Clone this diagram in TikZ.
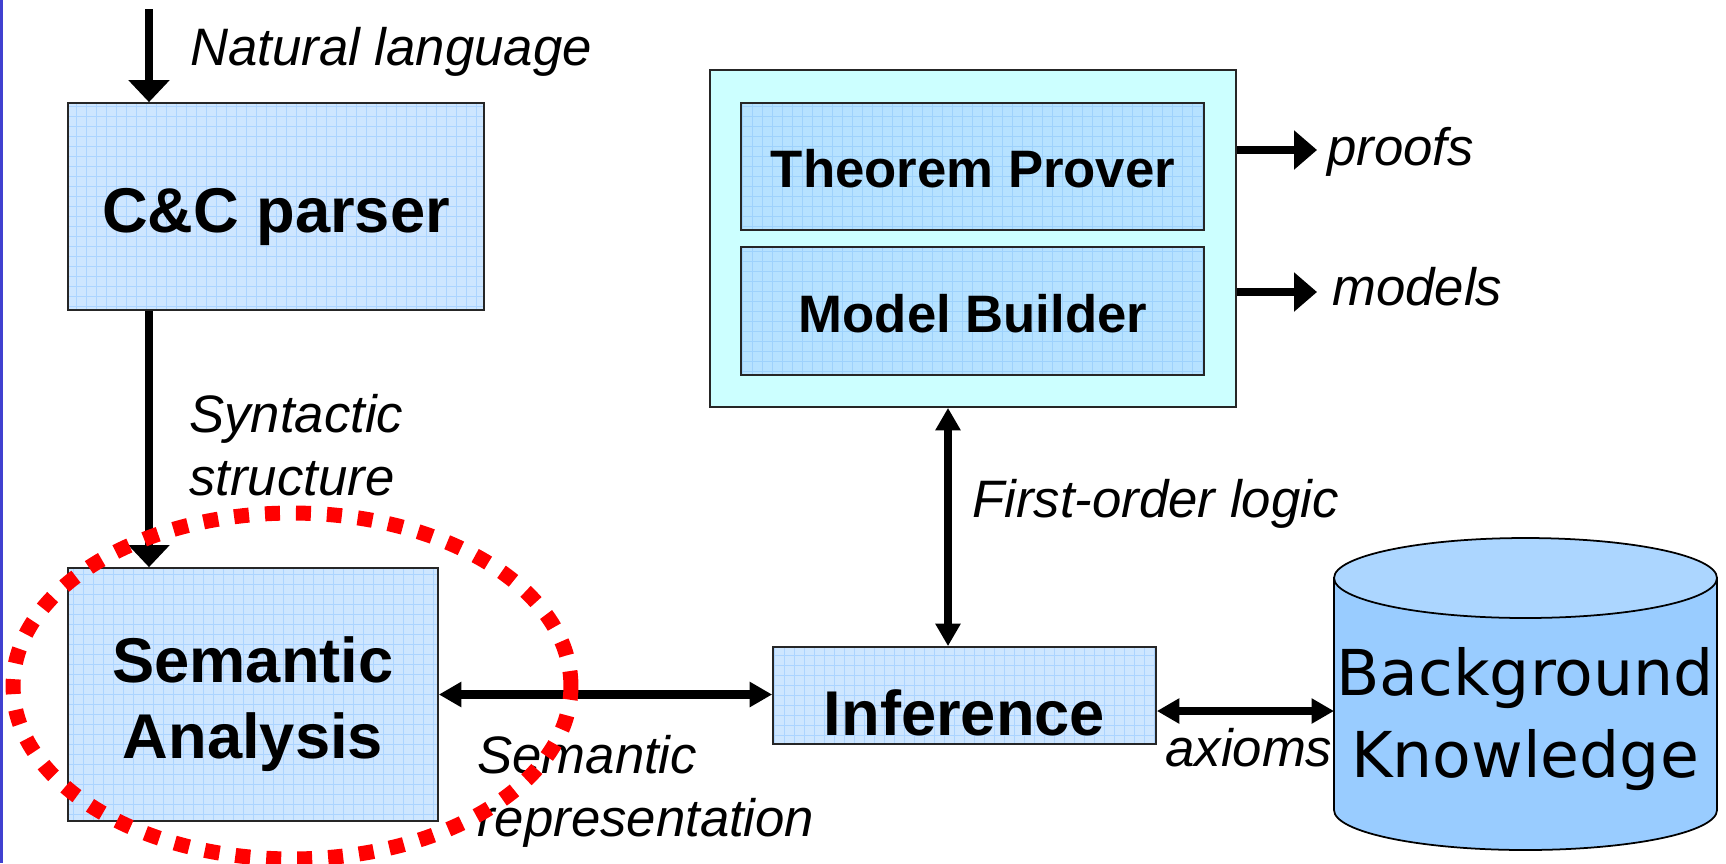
\documentclass[tikz,border=0pt]{standalone}
\usepackage{fontspec}
\setmainfont{Liberation Sans}
\newfontfamily\dejavu{DejaVu Sans}
\usetikzlibrary{arrows.meta}
\definecolor{edgeblue}{RGB}{64,64,208}
\definecolor{boxfill}{RGB}{206,230,255}
\definecolor{boxgrid}{RGB}{172,212,255}
\definecolor{innerfill}{RGB}{182,226,255}
\definecolor{innergrid}{RGB}{158,210,252}
\definecolor{outerfill}{RGB}{204,255,255}
\definecolor{cylbody}{RGB}{153,204,255}
\definecolor{cylcap}{RGB}{172,214,255}
\definecolor{ovalred}{RGB}{255,0,0}
\begin{document}
\begin{tikzpicture}[x=0.02cm,y=-0.02cm,
  gridbox/.style={draw=black!85, line width=1pt, fill=boxfill, inner sep=0pt,
    path picture={\draw[boxgrid, line width=0.45pt] (path picture bounding box.south west) grid[step=0.2cm] (path picture bounding box.north east);}},
  innerbox/.style={draw=black!85, line width=1pt, fill=innerfill, inner sep=0pt,
    path picture={\draw[innergrid, line width=0.45pt] (path picture bounding box.south west) grid[step=0.2cm] (path picture bounding box.north east);}},
  bigtext/.style={font=\fontsize{36}{42}\selectfont\bfseries, inner sep=0pt, anchor=base},
  midtext/.style={font=\fontsize{30}{35}\selectfont\bfseries, inner sep=0pt, anchor=base},
  dbtext/.style={font=\dejavu\fontsize{36}{42}\selectfont, inner sep=0pt, anchor=base},
  lab/.style={font=\fontsize{30}{35}\selectfont\itshape, inner sep=0pt, anchor=base west},
  bigarrow/.style={line width=0.16cm, -{Triangle[width=0.8cm,length=0.44cm]}},
  dblarrow/.style={line width=0.17cm, {Triangle[width=0.48cm,length=0.45cm]}-{Triangle[width=0.48cm,length=0.45cm]}},
  outarrow/.style={line width=0.17cm, -{Triangle[width=0.76cm,length=0.46cm]}}
]
\useasboundingbox (0,0) rectangle (1726,863);
\fill[white] (0,0) rectangle (1726,863);
\fill[edgeblue] (0,0) rectangle (3,863);

% boxes
\node[gridbox, minimum width=8.32cm, minimum height=4.14cm] (cc) at (276,206.5) {};
\node[bigtext] (cctext) at (276,232) {C\&C parser};
\node[gridbox, minimum width=7.4cm, minimum height=5.06cm] (sem) at (253,694.5) {};
\node[bigtext] (semtext1) at (253,682) {Semantic};
\node[bigtext] (semtext2) at (253,758) {Analysis};
\node[gridbox, minimum width=7.66cm, minimum height=1.94cm] (inf) at (964.5,695.5) {};
\node[bigtext] (inftext) at (964.5,735) {Inference};
\node[draw=black!85, line width=1pt, fill=outerfill, minimum width=10.52cm, minimum height=6.74cm] (outer) at (973,238.5) {};
\node[innerbox, minimum width=9.26cm, minimum height=2.54cm] (tp) at (972.5,166.5) {};
\node[midtext] (tptext) at (973,187) {Theorem Prover};
\node[innerbox, minimum width=9.26cm, minimum height=2.56cm] (mb) at (972.5,311) {};
\node[midtext] (mbtext) at (973,332) {Model Builder};

% cylinder
\filldraw[fill=cylbody, draw=black, line width=1pt] (1334,578) -- (1334,810) .. controls (1334,832.1) and (1419.7,850) .. (1525.5,850) .. controls (1631.3,850) and (1717,832.1) .. (1717,810) -- (1717,578) -- cycle;
\filldraw[fill=cylcap, draw=black, line width=1pt] (1525.5,578) ellipse [x radius=3.83cm, y radius=0.8cm];
\node[dbtext] (bk1) at (1525,695) {Background};
\node[dbtext] (bk2) at (1525,777) {Knowledge};

% labels
\node[lab] (nl) at (190,65) {Natural language};
\node[lab] (syn1) at (189,432) {Syntactic};
\node[lab] (syn2) at (189,495) {structure};
\node[lab] (semrep1) at (477,773) {Semantic};
\node[lab] (semrep2) at (477,836) {representation};
\node[lab] (fol) at (972,517) {First-order logic};
\node[lab] (proofs) at (1327,165) {proofs};
\node[lab] (models) at (1332,305) {models};
\node[lab] (ax) at (1165,766) {axioms};

% connectors
\coordinate (nltop) at (149,9);
\draw[bigarrow] (nltop) -- (cc.north -| nltop);
\draw[bigarrow] (cc.south -| nltop) -- (sem.north -| nltop);
\draw[dblarrow] (sem.east) -- (sem.east -| inf.west);
\coordinate (fx) at (948,0);
\draw[dblarrow] (outer.south -| fx) -- (inf.north -| fx);
\coordinate (bkw) at (1334,711);
\draw[dblarrow] (inf.east |- bkw) -- (bkw);
\coordinate (pr) at (1317,150);
\draw[outarrow] (outer.east |- pr) -- (pr);
\coordinate (md) at (1317,292);
\draw[outarrow] (outer.east |- md) -- (md);

% red dotted focus oval
\draw[ovalred, line width=0.3cm, dash pattern=on 0.3cm off 0.32cm] (292,686) ellipse [x radius=5.58cm, y radius=3.46cm];
\end{tikzpicture}
\end{document}
